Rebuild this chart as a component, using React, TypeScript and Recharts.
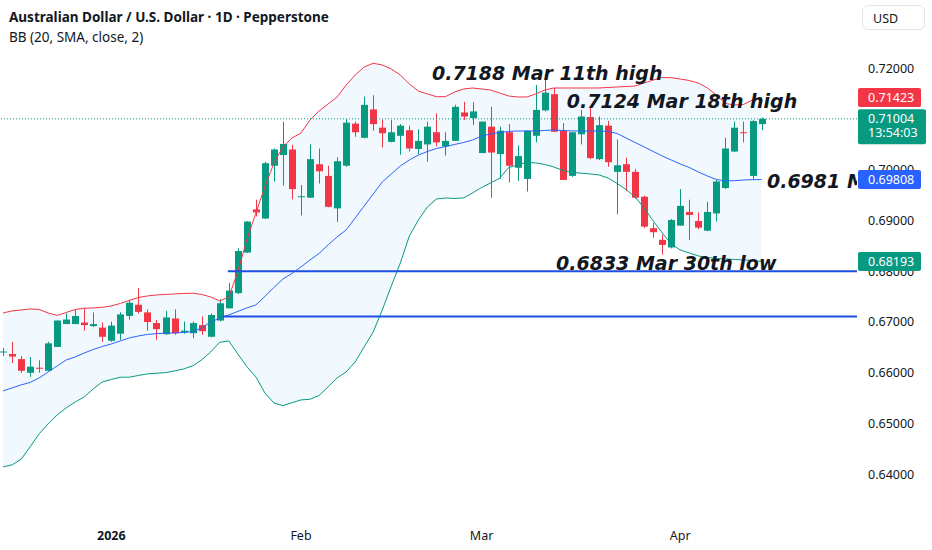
import React from 'react';
import {
  ComposedChart, Bar, Line, Area, XAxis, YAxis, ReferenceLine, ReferenceDot
} from 'recharts';

const UP = '#089981';
const DOWN = '#f23645';
const BLUE = '#2962ff';
const INK = '#131722';

// daily candles, AUD/USD (Pepperstone)
const dates = [
  '2025-12-15', '2025-12-16', '2025-12-17', '2025-12-18', '2025-12-19', '2025-12-22', '2025-12-23', '2025-12-24',
  '2025-12-26', '2025-12-29', '2025-12-30', '2025-12-31', '2026-01-02', '2026-01-05', '2026-01-06', '2026-01-07',
  '2026-01-08', '2026-01-09', '2026-01-12', '2026-01-13', '2026-01-14', '2026-01-15', '2026-01-16', '2026-01-19',
  '2026-01-20', '2026-01-21', '2026-01-22', '2026-01-23', '2026-01-26', '2026-01-27', '2026-01-28', '2026-01-29',
  '2026-01-30', '2026-02-02', '2026-02-03', '2026-02-04', '2026-02-05', '2026-02-06', '2026-02-09', '2026-02-10',
  '2026-02-11', '2026-02-12', '2026-02-13', '2026-02-16', '2026-02-17', '2026-02-18', '2026-02-19', '2026-02-20',
  '2026-02-23', '2026-02-24', '2026-02-25', '2026-02-26', '2026-02-27', '2026-03-02', '2026-03-03', '2026-03-04',
  '2026-03-05', '2026-03-06', '2026-03-09', '2026-03-10', '2026-03-11', '2026-03-12', '2026-03-13', '2026-03-16',
  '2026-03-17', '2026-03-18', '2026-03-19', '2026-03-20', '2026-03-23', '2026-03-24', '2026-03-25', '2026-03-26',
  '2026-03-27', '2026-03-30', '2026-03-31', '2026-04-01', '2026-04-02', '2026-04-03', '2026-04-06', '2026-04-07',
  '2026-04-08', '2026-04-09', '2026-04-10', '2026-04-13', '2026-04-14',
];

const open = [
  0.6640, 0.6637, 0.6627, 0.6600, 0.6610, 0.6604, 0.6651, 0.6696, 0.6696, 0.6699, 0.6692, 0.6689,
  0.6663, 0.6677, 0.6712, 0.6734, 0.6719, 0.6698, 0.6676, 0.6707, 0.6680, 0.6678, 0.6694, 0.6671,
  0.6703, 0.6727, 0.6757, 0.6837, 0.6922, 0.6904, 0.7008, 0.7029, 0.7040, 0.6946, 0.6945, 0.7011,
  0.6988, 0.6924, 0.7008, 0.7091, 0.7063, 0.7119, 0.7083, 0.7055, 0.7067, 0.7078, 0.7041, 0.7050,
  0.7074, 0.7046, 0.7057, 0.7113, 0.7102, 0.7033, 0.7085, 0.7031, 0.7074, 0.7004, 0.6982, 0.7067,
  0.7117, 0.7149, 0.7077, 0.6988, 0.7070, 0.7104, 0.7021, 0.7087, 0.6996, 0.7011, 0.6996, 0.6947,
  0.6885, 0.6862, 0.6847, 0.6890, 0.6917, 0.6899, 0.6880, 0.6914, 0.6964, 0.7036, 0.7074, 0.6988,
  0.7090,
];
const high = [
  0.6649, 0.6661, 0.6633, 0.6631, 0.6625, 0.6661, 0.6703, 0.6717, 0.6724, 0.6727, 0.6719, 0.6699,
  0.6701, 0.6719, 0.6744, 0.6767, 0.6725, 0.6704, 0.6722, 0.6725, 0.6701, 0.6701, 0.6711, 0.6717,
  0.6745, 0.6777, 0.6845, 0.6899, 0.6941, 0.7016, 0.7042, 0.7095, 0.7049, 0.6970, 0.7050, 0.7042,
  0.7008, 0.7025, 0.7100, 0.7095, 0.7144, 0.7147, 0.7099, 0.7098, 0.7090, 0.7087, 0.7080, 0.7095,
  0.7111, 0.7074, 0.7128, 0.7134, 0.7133, 0.7095, 0.7124, 0.7085, 0.7090, 0.7048, 0.7078, 0.7167,
  0.7188, 0.7161, 0.7092, 0.7074, 0.7118, 0.7124, 0.7105, 0.7096, 0.7060, 0.7024, 0.7002, 0.6949,
  0.6895, 0.6872, 0.6903, 0.6962, 0.6941, 0.6916, 0.6937, 0.6980, 0.7063, 0.7095, 0.7095, 0.7098,
  0.7103,
];
const low = [
  0.6633, 0.6619, 0.6600, 0.6592, 0.6600, 0.6604, 0.6651, 0.6696, 0.6696, 0.6683, 0.6690, 0.6661,
  0.6661, 0.6665, 0.6705, 0.6717, 0.6683, 0.6665, 0.6675, 0.6675, 0.6677, 0.6668, 0.6675, 0.6670,
  0.6701, 0.6727, 0.6755, 0.6836, 0.6908, 0.6903, 0.6977, 0.6969, 0.6942, 0.6910, 0.6945, 0.6973,
  0.6926, 0.6897, 0.7006, 0.7065, 0.7062, 0.7077, 0.7044, 0.7054, 0.7030, 0.7036, 0.7031, 0.7016,
  0.7046, 0.7028, 0.7057, 0.7098, 0.7088, 0.7033, 0.6945, 0.6982, 0.6975, 0.6978, 0.6957, 0.7054,
  0.7115, 0.7074, 0.6980, 0.6986, 0.7050, 0.7021, 0.7019, 0.7006, 0.6912, 0.6958, 0.6943, 0.6885,
  0.6866, 0.6833, 0.6845, 0.6890, 0.6862, 0.6883, 0.6879, 0.6898, 0.6962, 0.7035, 0.7054, 0.6981,
  0.7078,
];
const close = [
  0.6642, 0.6632, 0.6604, 0.6612, 0.6608, 0.6658, 0.6703, 0.6705, 0.6712, 0.6694, 0.6696, 0.6671,
  0.6693, 0.6715, 0.6738, 0.6720, 0.6700, 0.6686, 0.6709, 0.6678, 0.6683, 0.6698, 0.6682, 0.6714,
  0.6737, 0.6762, 0.6840, 0.6898, 0.6916, 0.7013, 0.7040, 0.7051, 0.6962, 0.6948, 0.7021, 0.6997,
  0.6927, 0.7017, 0.7093, 0.7074, 0.7128, 0.7090, 0.7072, 0.7074, 0.7087, 0.7042, 0.7057, 0.7085,
  0.7054, 0.7057, 0.7124, 0.7105, 0.7115, 0.7095, 0.7034, 0.7077, 0.7008, 0.7027, 0.7077, 0.7118,
  0.7152, 0.7075, 0.6980, 0.7074, 0.7105, 0.7023, 0.7088, 0.7015, 0.7009, 0.6996, 0.6945, 0.6888,
  0.6877, 0.6852, 0.6901, 0.6929, 0.6911, 0.6886, 0.6917, 0.6977, 0.7042, 0.7083, 0.7073, 0.7096,
  0.71004,
];

// BB (20, SMA, close, 2) as plotted
const bbUpper = [
  0.67179, 0.67219, 0.67238, 0.67258, 0.67248, 0.67179, 0.67130, 0.67189, 0.67248, 0.67272, 0.67278, 0.67292,
  0.67317, 0.67367, 0.67426, 0.67485, 0.67514, 0.67534, 0.67544, 0.67554, 0.67564, 0.67568, 0.67544, 0.67495,
  0.67416, 0.67495, 0.67993, 0.68618, 0.69149, 0.69662, 0.70134, 0.70450, 0.70627, 0.70725, 0.70981, 0.71159,
  0.71297, 0.71435, 0.71671, 0.71868, 0.72026, 0.72099, 0.72065, 0.71986, 0.71868, 0.71691, 0.71553, 0.71494,
  0.71441, 0.71441, 0.71533, 0.71592, 0.71612, 0.71592, 0.71573, 0.71513, 0.71454, 0.71435, 0.71435, 0.71494,
  0.71573, 0.71612, 0.71612, 0.71612, 0.71612, 0.71612, 0.71612, 0.71622, 0.71632, 0.71641, 0.71651, 0.71710,
  0.71769, 0.71819, 0.71815, 0.71789, 0.71760, 0.71710, 0.71612, 0.71474, 0.71307, 0.71277, 0.71287, 0.71376,
  0.71423,
];
const bbBasis = [
  0.65643, 0.65702, 0.65761, 0.65810, 0.65899, 0.66017, 0.66135, 0.66253, 0.66313, 0.66391, 0.66460, 0.66519,
  0.66569, 0.66628, 0.66687, 0.66726, 0.66756, 0.66772, 0.66780, 0.66785, 0.66795, 0.66811, 0.66884, 0.67002,
  0.67075, 0.67140, 0.67209, 0.67278, 0.67337, 0.67504, 0.67682, 0.67849, 0.67958, 0.68086, 0.68224, 0.68352,
  0.68519, 0.68677, 0.68815, 0.69051, 0.69287, 0.69524, 0.69760, 0.69918, 0.70075, 0.70193, 0.70292, 0.70361,
  0.70420, 0.70459, 0.70499, 0.70538, 0.70587, 0.70666, 0.70706, 0.70735, 0.70755, 0.70765, 0.70765, 0.70765,
  0.70775, 0.70784, 0.70775, 0.70765, 0.70765, 0.70765, 0.70765, 0.70755, 0.70716, 0.70627, 0.70538, 0.70450,
  0.70361, 0.70272, 0.70193, 0.70115, 0.70046, 0.69957, 0.69878, 0.69809, 0.69780, 0.69786, 0.69799, 0.69805,
  0.69808,
];
const bbLower = [
  0.64146, 0.64185, 0.64294, 0.64540, 0.64796, 0.64993, 0.65170, 0.65308, 0.65426, 0.65525, 0.65682, 0.65820,
  0.65869, 0.65913, 0.65913, 0.65948, 0.65978, 0.65992, 0.66003, 0.66037, 0.66076, 0.66135, 0.66253, 0.66411,
  0.66602, 0.66628, 0.66372, 0.66122, 0.65919, 0.65603, 0.65406, 0.65353, 0.65412, 0.65465, 0.65479, 0.65554,
  0.65722, 0.65899, 0.66017, 0.66214, 0.66510, 0.66805, 0.67238, 0.67711, 0.68164, 0.68696, 0.69011, 0.69268,
  0.69425, 0.69445, 0.69435, 0.69445, 0.69543, 0.69652, 0.69740, 0.69833, 0.70046, 0.70095, 0.70148, 0.70134,
  0.70105, 0.70056, 0.69987, 0.69947, 0.69934, 0.69918, 0.69898, 0.69839, 0.69731, 0.69612, 0.69465, 0.69248,
  0.68992, 0.68756, 0.68539, 0.68420, 0.68361, 0.68302, 0.68273, 0.68253, 0.68243, 0.68233, 0.68223, 0.68214,
  0.68193,
];

const monthTicks = [12, 33, 53, 75];
const monthLabels = ['2026', 'Feb', 'Mar', 'Apr'];
// ticks drawn by the axis, and the ones that sit under a price tag
const priceTicks = [0.64, 0.65, 0.66, 0.67, 0.69, 0.72];
const coveredTicks = [0.68, 0.70, 0.71];

const lastPrice = 0.71004;
const countdown = '13:54:03';
const priceTags = [
  { price: 0.71423, color: DOWN },
  { price: 0.69808, color: BLUE },
  { price: 0.68193, color: UP },
];
const levels = [
  { price: 0.6800, from: 24.9 },
  { price: 0.6711, from: 24.4 },
];
const notes = [
  { text: '0.7188 Mar 11th high', at: 47.5, price: 0.7177 },
  { text: '0.7124 Mar 18th high', at: 62.43, price: 0.71208 },
  { text: '0.6981 Mid BB', at: 84.6, price: 0.69642 },
  { text: '0.6833 Mar 30th low', at: 61.24, price: 0.68026 },
];

const rows = dates.map((date, i) => ({
  i,
  date,
  open: open[i],
  high: high[i],
  low: low[i],
  close: close[i],
  range: [low[i], high[i]],
  upper: bbUpper[i],
  basis: bbBasis[i],
  lower: bbLower[i],
  band: [bbLower[i], bbUpper[i]],
}));

const X_DOMAIN: [number, number] = [-0.332, 94.57];
const Y_DOMAIN: [number, number] = [0.630601, 0.733458];
const AXIS_FONT = '"Noto Sans", sans-serif';

function Candle(props: any) {
  const { x, y, width, height, payload } = props;
  const top = Math.min(y, y + height);
  const span = Math.abs(height);
  const { open: o, high: h, low: l, close: c } = payload;
  const toY = (v: number) => top + ((h - v) / (h - l)) * span;
  const color = c >= o ? UP : DOWN;
  const cx = Math.round(x + width / 2) + 0.5;
  const bTop = toY(Math.max(o, c));
  const bBot = toY(Math.min(o, c));
  return (
    <g>
      <line x1={cx} x2={cx} y1={top} y2={top + span} stroke={color} strokeWidth={1} />
      <rect x={cx - 3.5} y={bTop} width={7} height={Math.max(1, bBot - bTop)} fill={color} />
    </g>
  );
}

function PriceTag({ viewBox, value, color, sub }: any) {
  const x = viewBox.x + viewBox.width + 1;
  const y = viewBox.y;
  return (
    <g fontFamily={AXIS_FONT} fontSize={12.5}>
      <rect x={x} y={y - 9.5} width={sub ? 68 : 63} height={sub ? 35 : 19} rx={2} fill={color} />
      <text x={x + 10} y={y + 4.5} fill="#fff">{value.toFixed(5)}</text>
      {sub && <text x={x + 10} y={y + 18.5} fill="#fff">{sub}</text>}
    </g>
  );
}

function CoveredTick({ viewBox, value }: any) {
  return (
    <text x={viewBox.x + viewBox.width + 11} y={viewBox.y + 4.5} fontFamily={AXIS_FONT} fontSize={12.5} fill={INK}>
      {value.toFixed(5)}
    </text>
  );
}

function NoteText({ cx, cy, text }: any) {
  return (
    <g>
      <defs>
        <clipPath id="note-clip">
          <rect x={0} y={0} width={857} height={522} />
        </clipPath>
      </defs>
      <text
        x={cx}
        y={cy}
        clipPath="url(#note-clip)"
        fontFamily='"DejaVu Sans", sans-serif'
        fontWeight={700}
        fontStyle="italic"
        fontSize={19}
        fill={INK}
      >
        {text}
      </text>
    </g>
  );
}

function MonthTick({ x, y, payload }: any) {
  const label = monthLabels[monthTicks.indexOf(payload.value)];
  return (
    <text x={x} y={y + 17.5} textAnchor="middle" fontFamily={AXIS_FONT} fontSize={12.5}
      fontWeight={label === '2026' ? 700 : 400} fill={INK}>
      {label}
    </text>
  );
}

export default function App() {
  return (
    <div style={{ position: 'absolute', left: 0, top: 0, width: 932, height: 550, background: '#fff', overflow: 'hidden' }}>
      <ComposedChart width={932} height={550} data={rows} margin={{ top: 0, right: 0, bottom: 0, left: 0 }}>
        <XAxis
          dataKey="i"
          type="number"
          domain={X_DOMAIN}
          allowDataOverflow
          ticks={monthTicks}
          tick={<MonthTick />}
          tickLine={false}
          axisLine={false}
          tickSize={0}
          tickMargin={0}
          height={28}
        />
        <YAxis
          orientation="right"
          domain={Y_DOMAIN}
          allowDataOverflow
          ticks={priceTicks}
          tickFormatter={(v: number) => v.toFixed(5)}
          tick={{ fill: INK, fontSize: 12.5, fontFamily: AXIS_FONT }}
          tickLine={false}
          axisLine={false}
          tickSize={0}
          tickMargin={11}
          width={75}
        />
        <Area dataKey="band" stroke="none" fill="#2196f3" fillOpacity={0.06}
          dot={false} activeDot={false} isAnimationActive={false} />
        <Line dataKey="upper" stroke={DOWN} strokeWidth={1} dot={false} activeDot={false} isAnimationActive={false} />
        <Line dataKey="basis" stroke={BLUE} strokeWidth={1} dot={false} activeDot={false} isAnimationActive={false} />
        <Line dataKey="lower" stroke={UP} strokeWidth={1} dot={false} activeDot={false} isAnimationActive={false} />
        {levels.map((lv) => (
          <ReferenceLine
            key={lv.price}
            segment={[{ x: lv.from, y: lv.price }, { x: X_DOMAIN[1], y: lv.price }]}
            stroke="#1f4fe0"
            strokeWidth={2}
          />
        ))}
        <ReferenceLine y={lastPrice} stroke={UP} strokeDasharray="1 2" strokeWidth={1} />
        <Bar dataKey="range" barSize={7} shape={<Candle />} activeBar={false} isAnimationActive={false} />
        {notes.map((n) => (
          <ReferenceDot
            key={n.text}
            x={n.at}
            y={n.price}
            r={0}
            shape={(p: any) => <NoteText {...p} text={n.text} />}
          />
        ))}
        {coveredTicks.map((v) => (
          <ReferenceLine
            key={`t${v}`}
            y={v}
            stroke="none"
            label={(p: any) => <CoveredTick viewBox={p.viewBox} value={v} />}
          />
        ))}
        {priceTags.map((t) => (
          <ReferenceLine
            key={t.price}
            y={t.price}
            stroke="none"
            label={(p: any) => <PriceTag viewBox={p.viewBox} value={t.price} color={t.color} />}
          />
        ))}
        <ReferenceLine
          y={lastPrice}
          stroke="none"
          label={(p: any) => <PriceTag viewBox={p.viewBox} value={lastPrice} color={UP} sub={countdown} />}
        />
      </ComposedChart>

      <div style={{ position: 'absolute', left: 9, top: 7, fontFamily: AXIS_FONT, color: INK, lineHeight: '20px' }}>
        <div style={{ fontSize: 13.5, fontWeight: 700 }}>Australian Dollar / U.S. Dollar · 1D · Pepperstone</div>
        <div style={{ fontSize: 13.5 }}>BB (20, SMA, close, 2)</div>
      </div>
      <div style={{
        position: 'absolute', left: 862, top: 5, width: 63, height: 25, border: '1px solid #e0e3eb',
        borderRadius: 6, fontFamily: AXIS_FONT, fontSize: 12.5, color: INK, lineHeight: '25px',
        paddingLeft: 10, boxSizing: 'border-box',
      }}>
        USD
      </div>
    </div>
  );
}
